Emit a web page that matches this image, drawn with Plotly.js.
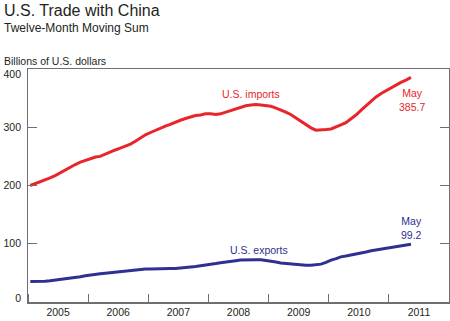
<!DOCTYPE html>
<html>
<head>
<meta charset="utf-8">
<script src="https://cdn.plot.ly/plotly-3.0.1.min.js"></script>
<style>html,body{margin:0;padding:0;background:#fff;}#chart{width:450px;height:321px;}</style>
</head>
<body>
<div id="chart"></div>
<script>
// Monthly data, Jan 2005 – May 2011 (billions of U.S. dollars, 12-month moving sum)
const startYear = 2005;
const imports = [
  200, 203, 206, 209, 213, 217, 222, 227, 232, 236, 240, 243,
  246, 249, 250, 254, 258, 261, 264, 267, 271, 276, 282, 287,
  291, 295, 298, 302, 305, 309, 312, 315, 318, 320, 321, 323,
  323, 322, 323, 326, 328, 331, 334, 337, 338, 339, 338, 337,
  336, 333, 330, 326, 322, 316, 311, 305, 299, 295, 295, 296,
  297, 300, 304, 308, 314, 321, 329, 337, 345, 352, 358, 363,
  368, 373, 377, 381, 385.7
];
const exports_ = [
  35, 35, 35.3, 35.6, 36.5, 37.5, 38.5, 39.5, 41, 42, 43.5, 45,
  46.5, 47.5, 48.5, 49.5, 50.5, 51.5, 52.5, 53.5, 54.5, 55.5, 56.5, 56.5,
  56.5, 57, 57, 57, 57.5, 57.5, 58, 59, 60, 61, 62, 63.5,
  65, 66, 67.5, 69, 70, 71, 72, 72.5, 72.5, 72.5, 72.5, 71.5,
  70, 68.5, 67, 66, 65, 64, 63.5, 63, 63, 63.5, 65, 68,
  72, 74.5, 77.5, 79, 80.5, 82, 84, 86, 88, 89.5, 91, 92.5,
  94, 95.5, 97, 98.3, 99.2
];
const yTicks = [0, 100, 200, 300, 400];
// label anchor values: end labels sit inside the frame, as in the original
const yLabelPos = [7, 100, 200, 300, 391];
const seriesNames = ['U.S. imports', 'U.S. exports'];
const endLabels = ['May<br>385.7', 'May<br>99.2'];

const dates = imports.map((_, i) => {
  const y = startYear + Math.floor(i / 12);
  const m = (i % 12) + 1;
  return y + '-' + String(m).padStart(2, '0') + '-15';
});

const RED = '#e8252b';
const BLUE = '#2e3192';
const FONT = 'Liberation Sans, Arial, sans-serif';
const TXT = '#231f20';
const AX = '#6f6f6f';

const traces = [
  {x: dates, y: imports, type: 'scatter', mode: 'lines', name: seriesNames[0],
   line: {color: RED, width: 3}, hoverinfo: 'skip'},
  {x: dates, y: exports_, type: 'scatter', mode: 'lines', name: seriesNames[1],
   line: {color: BLUE, width: 3}, hoverinfo: 'skip'}
];

const L = 28, R = 449, T = 69, B = 302;
const px = x => (x - L) / (R - L);
const py = y => (B - y) / (B - T);

const layout = {
  width: 450, height: 321,
  margin: {l: L, r: 450 - R, t: T, b: 321 - B, pad: 0},
  paper_bgcolor: '#fff', plot_bgcolor: '#fff',
  showlegend: false,
  font: {family: FONT, size: 10.5, color: TXT},
  xaxis: {
    type: 'date', range: ['2005-01-01', '2012-01-01'],
    tick0: '2005-01-01', dtick: 'M12', tickformat: '%Y', ticklabelmode: 'period',
    ticks: 'inside', ticklen: 8, tickwidth: 1, tickcolor: AX,
    showgrid: false, zeroline: false,
    showline: true, linecolor: AX, linewidth: 1.5, mirror: true,
    tickfont: {family: FONT, size: 10.5, color: TXT}
  },
  yaxis: {
    range: [0, 400], tickvals: yTicks, showticklabels: false,
    ticks: 'inside', ticklen: 9, tickwidth: 1, tickcolor: AX,
    showgrid: false, zeroline: false,
    showline: true, linecolor: AX, linewidth: 1.5, mirror: 'ticks'
  },
  yaxis2: {
    overlaying: 'y', side: 'left', range: [0, 400],
    tickvals: yLabelPos, ticktext: yTicks.map(String),
    ticks: '', showline: false, showgrid: false, zeroline: false,
    ticklabelstandoff: 6,
    tickfont: {family: FONT, size: 10.5, color: TXT}
  },
  annotations: [
    {text: 'U.S. Trade with China', xref: 'paper', yref: 'paper', x: px(2), y: py(10),
     xanchor: 'left', yanchor: 'middle', showarrow: false,
     font: {family: FONT, size: 16, color: TXT}},
    {text: 'Twelve-Month Moving Sum', xref: 'paper', yref: 'paper', x: px(2), y: py(28.5),
     xanchor: 'left', yanchor: 'middle', showarrow: false,
     font: {family: FONT, size: 12, color: TXT}},
    {text: 'Billions of U.S. dollars', xref: 'paper', yref: 'paper', x: px(2), y: py(60.5),
     xanchor: 'left', yanchor: 'middle', showarrow: false,
     font: {family: FONT, size: 10.5, color: TXT}},
    {text: seriesNames[0], xref: 'paper', yref: 'paper', x: px(251), y: py(93.5),
     xanchor: 'center', yanchor: 'middle', showarrow: false,
     font: {family: FONT, size: 10.5, color: RED}},
    {text: endLabels[0], xref: 'paper', yref: 'paper', x: px(411.5), y: py(99.5),
     xanchor: 'center', yanchor: 'middle', showarrow: false, align: 'center',
     font: {family: FONT, size: 10.5, color: RED}},
    {text: seriesNames[1], xref: 'paper', yref: 'paper', x: px(259), y: py(249.5),
     xanchor: 'center', yanchor: 'middle', showarrow: false,
     font: {family: FONT, size: 10.5, color: BLUE}},
    {text: endLabels[1], xref: 'paper', yref: 'paper', x: px(411), y: py(228),
     xanchor: 'center', yanchor: 'middle', showarrow: false, align: 'center',
     font: {family: FONT, size: 10.5, color: BLUE}}
  ]
};

// dummy trace to activate yaxis2 for labels
traces.push({x: [dates[0]], y: [null], yaxis: 'y2', type: 'scatter', mode: 'lines',
  showlegend: false, hoverinfo: 'skip'});

Plotly.newPlot('chart', traces, layout, {displayModeBar: false, staticPlot: true});
</script>
</body>
</html>
